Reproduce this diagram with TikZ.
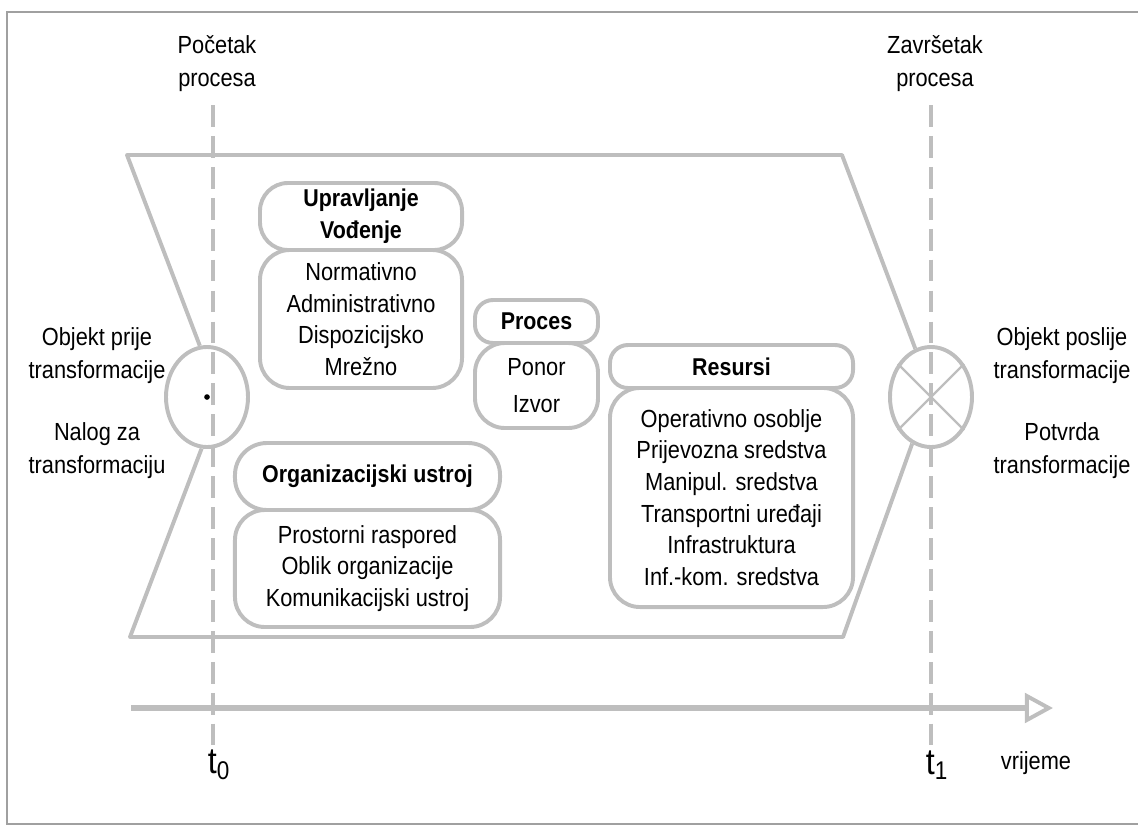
\documentclass[tikz,border=0pt]{standalone}
\usepackage{fontspec}
\setmainfont{Liberation Sans}[FakeStretch=0.88]
\usetikzlibrary{arrows.meta,shapes.geometric}
\definecolor{linegray}{RGB}{190,190,190}
\definecolor{framegray}{RGB}{160,160,160}
\tikzset{
  shapeline/.style={draw=linegray, line width=2.8pt, line join=round},
  headbox/.style={shapeline, rectangle, fill=white, rounded corners=#1, inner sep=0pt,
    align=center, font=\bfseries\fontsize{17.3}{22.5}\selectfont},
  itembox/.style={shapeline, rectangle, rounded corners=0.75cm, inner sep=0pt,
    align=center, font=\fontsize{17.6}{22.5}\selectfont},
  txt/.style={align=center, inner sep=0pt, font=\fontsize{17.6}{23.5}\selectfont},
  objcircle/.style={shapeline, ellipse, inner sep=0pt, minimum width=2.05cm, minimum height=2.5cm},
  timedash/.style={draw=linegray, line width=2.8pt, dash pattern=on 15.5pt off 6.5pt},
  tlabel/.style={inner sep=0pt, font=\fontsize{26}{30}\selectfont}
}

\begin{document}
\begin{tikzpicture}[line cap=butt,x=0.025cm,y=-0.025cm]
    \useasboundingbox (0,0) rectangle (1138,830);
    \draw[framegray, line width=1.6pt] (7,12) rectangle (1160,824);

    % corners of the process field
    \coordinate (tl) at (127,155);
    \coordinate (tr) at (842,155);
    \coordinate (br) at (843,637);
    \coordinate (bl) at (130,637);

    % object before / after transformation
    \node[objcircle] (objin) at (207,397) {};
    \node[objcircle] (objout) at (931,397) {};
    \node[circle, fill=black, inner sep=0pt, minimum size=4pt] (dot) at (objin.center) {};
    \draw[linegray, line width=1.6pt] (objout.45) -- (objout.225);
    \draw[linegray, line width=1.6pt] (objout.135) -- (objout.315);

    \draw[shapeline] (objin.98) -- (tl) -- (tr) -- (objout.108);
    \draw[shapeline] (objout.248) -- (br) -- (bl) -- (objin.264);

    % Upravljanje
    \node[itembox, minimum width=5.05cm, minimum height=3.45cm] (uprbody) at (361,319)
        {Normativno\\Administrativno\\Dispozicijsko\\Mrežno};
    \node[headbox=0.7cm, minimum width=5.05cm, minimum height=1.675cm] (uprhead) at (361,216.5)
        {Upravljanje\\Vođenje};

    % Organizacijski ustroj
    \node[itembox, minimum width=6.625cm, minimum height=2.925cm] (orgbody) at (367.5,568.5)
        {Prostorni raspored\\Oblik organizacije\\Komunikacijski ustroj};
    \node[headbox=0.8cm, minimum width=6.625cm, minimum height=1.675cm] (orghead) at (367.5,476.5)
        {Organizacijski ustroj};

    % Proces
    \node[itembox, minimum width=3.075cm, minimum height=2.125cm, font=\fontsize{17.6}{26.5}\selectfont]
        (procbody) at (536.5,385.5) {Ponor\\Izvor};
    \node[headbox=0.45cm, minimum width=3.075cm, minimum height=1.075cm] (prochead) at (536.5,321.5)
        {Proces};

    % Resursi
    \node[itembox, minimum width=6.075cm, minimum height=5.475cm] (resbody) at (731.5,497.5)
        {Operativno osoblje\\Prijevozna sredstva\\Manipul. sredstva\\Transportni uređaji\\Infrastruktura\\Inf.-kom. sredstva};
    \node[headbox=0.45cm, minimum width=6.075cm, minimum height=1.075cm] (reshead) at (731.5,366.5)
        {Resursi};

    % time markers
    \coordinate (t0top) at (213,105);
    \coordinate (t0bot) at (213,745);
    \coordinate (t1top) at (931,105);
    \coordinate (t1bot) at (931,745);
    \draw[timedash] (t0top) -- (t0bot);
    \draw[timedash] (t1top) -- (t1bot);

    % time axis
    \coordinate (axstart) at (131,708);
    \coordinate (axend) at (1053,708);
    \draw[linegray, line width=3.6pt, -{Triangle[open, length=20pt, width=21pt, line width=2.8pt]}] (axstart) -- (axend);

    % texts
    \node[txt] (start) at (217,64) {Početak\\procesa};
    \node[txt] (finish) at (935,64) {Završetak\\procesa};
    \node[txt] (inobj) at (97,356) {Objekt prije\\transformacije};
    \node[txt] (inorder) at (97,451) {Nalog za\\transformaciju};
    \node[txt] (outobj) at (1062,356) {Objekt poslije\\transformacije};
    \node[txt] (outconf) at (1062,451) {Potvrda\\transformacije};
    \node[tlabel] (tzero) at (219,765) {t\textsubscript{0}};
    \node[tlabel] (tone) at (937,765) {t\textsubscript{1}};
    \node[txt] (time) at (1036,763) {vrijeme};
\end{tikzpicture}
\end{document}
